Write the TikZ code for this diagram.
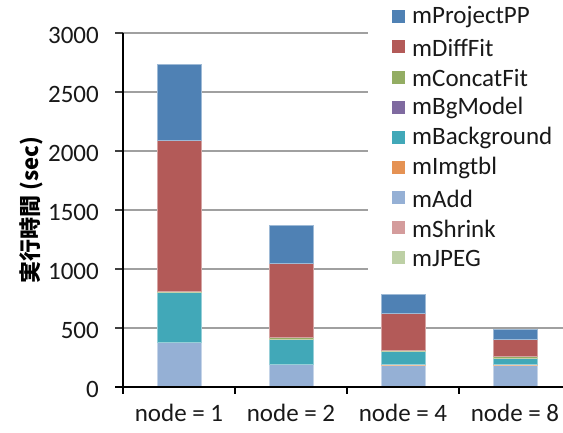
\documentclass[tikz,border=0pt]{standalone}
\usepackage{fontspec}
\setmainfont{Carlito}
\newfontfamily\jpfont{Noto Sans CJK JP}
\definecolor{cProj}{HTML}{4F81B4}
\definecolor{cDiff}{HTML}{B35A58}
\definecolor{cConcat}{HTML}{93AD63}
\definecolor{cBg}{HTML}{7F6AA0}
\definecolor{cBack}{HTML}{41A8B8}
\definecolor{cImg}{HTML}{E59253}
\definecolor{cAdd}{HTML}{95B0D5}
\definecolor{cShrink}{HTML}{D49C9C}
\definecolor{cJpeg}{HTML}{BDD0A5}
\definecolor{gridgray}{HTML}{A0A0A0}
\tikzset{
  lbl/.style={font=\fontsize{25}{29}\selectfont, inner sep=0pt, text=black!90},
  gridline/.style={draw=gridgray, line width=1.5pt},
  axisline/.style={draw=black, line width=1.3pt},
  seg/.style={fill=#1, draw=#1!55!white, line width=0.6pt},
  keybox/.style={fill=#1, draw=none, minimum size=13pt, inner sep=0pt},
}
% value (sec) -> vertical position
\newcommand{\vy}[1]{387-0.118*#1}
\begin{document}
\begin{tikzpicture}[x=1pt, y=-1pt]
\useasboundingbox (0,0) rectangle (563,433);
\fill[white] (0,0) rectangle (563,433);

% grid lines and tick labels
\draw[gridline] (123,{\vy{500}}) -- (563,{\vy{500}});
\foreach \v in {1000,1500,2000,2500,3000}
  \draw[gridline] (123,{\vy{\v}}) -- (368,{\vy{\v}});
\foreach \v in {0,500,...,3000} {
  \draw[draw=black!75, line width=1.2pt] (115,{\vy{\v}}) -- (123,{\vy{\v}});
  \node[lbl, anchor=east] (t\v) at (99,{\vy{\v}+2}) {\v};
}

% stacked bars: centre, then segment tops for each series
\foreach \cx/\a/\b/\c/\d/\e/\f/\g/\h/\i/\name in {
  179/2/4/379/383/800/804/810/2087/2737/b1,
  291/2/4/189/192/404/407/421/1045/1367/b2,
  403/2/4/186/189/299/302/313/624/785/b3,
  515/2/4/186/189/240/243/257/404/489/b4} {
  \begin{scope}[shift={(\cx,0)}]
    \draw[seg=cJpeg]   (-22,{\vy{0}})  rectangle (22,{\vy{\a}});
    \draw[seg=cShrink] (-22,{\vy{\a}}) rectangle (22,{\vy{\b}});
    \draw[seg=cAdd]    (-22,{\vy{\b}}) rectangle (22,{\vy{\c}});
    \draw[seg=cImg]    (-22,{\vy{\c}}) rectangle (22,{\vy{\d}});
    \draw[seg=cBack]   (-22,{\vy{\d}}) rectangle (22,{\vy{\e}});
    \draw[seg=cBg]     (-22,{\vy{\e}}) rectangle (22,{\vy{\f}});
    \draw[seg=cConcat] (-22,{\vy{\f}}) rectangle (22,{\vy{\g}});
    \draw[seg=cDiff]   (-22,{\vy{\g}}) rectangle (22,{\vy{\h}});
    \draw[seg=cProj]   (-22,{\vy{\h}}) rectangle (22,{\vy{\i}});
  \end{scope}
}

% axes
\draw[axisline] (123,33) -- (123,394);
\draw[axisline] (115,387) -- (563,387);
\foreach \tx in {235,347,459}
  \draw[axisline] (\tx,387) -- (\tx,394);

% category labels
\node[lbl] (x1) at (179,413) {node = 1};
\node[lbl] (x2) at (291,413) {node = 2};
\node[lbl] (x3) at (403,413) {node = 4};
\node[lbl] (x4) at (515,413) {node = 8};

% axis title
\node[inner sep=0pt, rotate=90, font=\jpfont\bfseries\fontsize{22}{26}\selectfont] (ytitle) at (31,210) {実行時間 (sec)};

% legend
\foreach \n/\col/\txt [count=\k from 0] in {
  p/cProj/mProjectPP, d/cDiff/mDiffFit, c/cConcat/mConcatFit,
  g/cBg/mBgModel, k/cBack/mBackground, i/cImg/mImgtbl,
  a/cAdd/mAdd, s/cShrink/mShrink, j/cJpeg/mJPEG} {
  \node[keybox=\col] (key\n) at (398.5,{16.7+30.16*\k}) {};
  \node[lbl, anchor=west] (lab\n) at (412,{17.5+30.16*\k}) {\txt};
}
\end{tikzpicture}
\end{document}
